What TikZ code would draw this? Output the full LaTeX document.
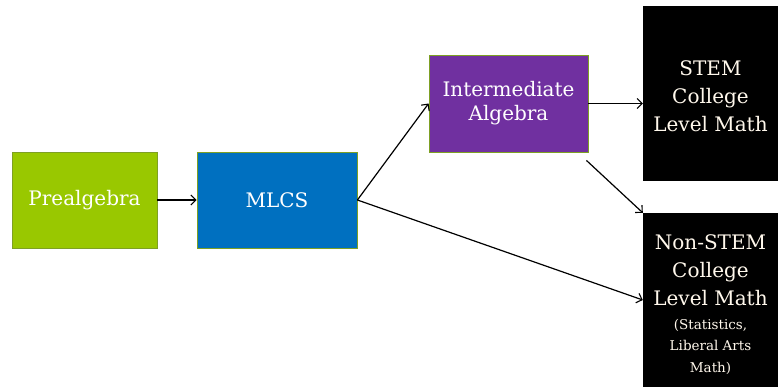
\documentclass[tikz,border=0pt]{standalone}
\usepackage{fontspec}
\setmainfont{DejaVu Serif}
\usetikzlibrary{arrows.meta}
\definecolor{pgreen}{HTML}{99C800}
\definecolor{pblue}{HTML}{0070C0}
\definecolor{ppurple}{HTML}{7030A0}
\definecolor{bord}{HTML}{7EA024}
\definecolor{cream}{HTML}{FFF8EC}
\begin{document}
\begin{tikzpicture}[x=1pt,y=-1pt,
  box/.style={rectangle, draw=bord, line width=0.8pt, text=white, align=center, inner sep=0pt, font=\fontsize{20}{26}\selectfont},
  blk/.style={rectangle, fill=black, inner sep=0pt},
  big/.style={text=cream, align=center, inner sep=0pt, font=\fontsize{20}{28}\selectfont},
  small/.style={text=cream, align=center, inner sep=0pt, font=\fontsize{13.5}{21.5}\selectfont},
  conn/.style={line width=1.2pt, -{Straight Barb[length=5pt,width=10pt,line width=1.1pt]}}]
\useasboundingbox (0,0) rectangle (778,387);
\node[box, fill=pgreen, minimum width=145pt, minimum height=96pt] (pre) at (84.5,200) {Prealgebra};
\node[box, fill=pblue, minimum width=160pt, minimum height=96pt] (mlcs) at (277,200) {MLCS};
\node[box, fill=ppurple, minimum width=159pt, minimum height=97pt] (ia) at (508.5,103.5) {Intermediate\\[-2pt]Algebra};
\node[blk, minimum width=135pt, minimum height=175pt] (stem) at (710.5,93.5) {};
\node[big] (stemt) at (710.5,96) {STEM\\College\\Level Math};
\node[blk, minimum width=135pt, minimum height=174pt] (non) at (710.5,300) {};
\node[big] (nont) at (710.5,270.5) {Non-STEM\\College\\Level Math};
\node[small] (nons) at (710.5,346.5) {(Statistics,\\Liberal Arts\\Math)};
\draw[conn] (pre.east) -- (mlcs.west);
\draw[conn] (mlcs.east) -- (ia.west);
\draw[conn] (mlcs.east) -- (non.west);
\draw[conn] (ia.east) -- (stem.west |- ia.east);
\draw[conn] ([xshift=-2pt,yshift=-8pt]ia.south east) -- (non.north west);
\end{tikzpicture}
\end{document}
